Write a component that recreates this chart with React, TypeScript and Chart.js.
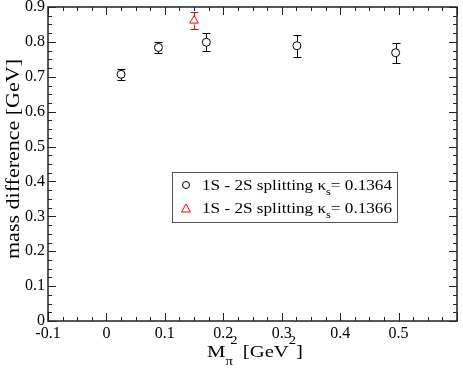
import React, { useEffect, useRef } from "react";
import { Chart, registerables } from "chart.js";

Chart.register(...registerables);

// Series 1: kappa_s = 0.1364 (black circles)
const xs1364 = [0.025, 0.089, 0.171, 0.326, 0.495];
const ys1364 = [0.707, 0.784, 0.799, 0.789, 0.769];
const err1364 = [0.015, 0.016, 0.026, 0.032, 0.029];
// Series 2: kappa_s = 0.1366 (red triangle)
const xs1366 = [0.150];
const ys1366 = [0.861];
const err1366 = [0.024];

const legendLabels = ["1S - 2S splitting \u03BA", "1S - 2S splitting \u03BA"];
const legendValues = ["= 0.1364", "= 0.1366"];

const SERIF = "\"Liberation Serif\", \"Times New Roman\", serif";
Chart.defaults.font.family = SERIF;

const errorBarPlugin = {
  id: "errorBars",
  afterDatasetsDraw(chart: any) {
    const ctx = chart.ctx;
    const ys = chart.scales.y;
    chart.data.datasets.forEach((ds: any, di: number) => {
      const meta = chart.getDatasetMeta(di);
      ctx.save();
      ctx.strokeStyle = ds.borderColor;
      ctx.lineWidth = 1;
      meta.data.forEach((pt: any, i: number) => {
        const d = ds.data[i];
        const yT = Math.round(ys.getPixelForValue(d.y + d.e)) + 0.5;
        const yB = Math.round(ys.getPixelForValue(d.y - d.e)) + 0.5;
        const x = Math.round(pt.x) + 0.5;
        const gap = 4;
        ctx.beginPath();
        ctx.moveTo(x, yT);
        ctx.lineTo(x, pt.y - gap);
        ctx.moveTo(x, pt.y + gap);
        ctx.lineTo(x, yB);
        ctx.moveTo(x - 4, yT);
        ctx.lineTo(x + 4, yT);
        ctx.moveTo(x - 4, yB);
        ctx.lineTo(x + 4, yB);
        ctx.stroke();
      });
      ctx.restore();
    });
  },
};

const framePlugin = {
  id: "frameTicks",
  afterDraw(chart: any) {
    const ctx = chart.ctx;
    const { left, right, top, bottom } = chart.chartArea;
    const xs = chart.scales.x;
    const ys = chart.scales.y;
    ctx.save();
    ctx.strokeStyle = "#222";
    ctx.lineWidth = 1.5;
    ctx.strokeRect(left, top, right - left, bottom - top);
    ctx.lineWidth = 1;
    const isMajor = (v: number) => Math.abs(Math.round(v * 1000)) % 100 === 0;
    xs.ticks.forEach((t: any) => {
      const px = Math.round(xs.getPixelForValue(t.value)) + 0.5;
      const len = isMajor(t.value) ? 8 : 4;
      ctx.beginPath();
      ctx.moveTo(px, bottom);
      ctx.lineTo(px, bottom - len);
      ctx.moveTo(px, top);
      ctx.lineTo(px, top + len);
      ctx.stroke();
    });
    ys.ticks.forEach((t: any) => {
      const py = Math.round(ys.getPixelForValue(t.value)) + 0.5;
      const len = isMajor(t.value) ? 8 : 4;
      ctx.beginPath();
      ctx.moveTo(left, py);
      ctx.lineTo(left + len, py);
      ctx.moveTo(right, py);
      ctx.lineTo(right - len, py);
      ctx.stroke();
    });

    ctx.fillStyle = "#000";
    ctx.textBaseline = "alphabetic";
    ctx.textAlign = "left";

    // X title: M_pi^2 [GeV^2]
    {
      const big = `17px ${SERIF}`;
      const small = `12px ${SERIF}`;
      ctx.font = big;
      const wM = ctx.measureText("M").width;
      const wB = ctx.measureText(" [GeV").width;
      const wC = ctx.measureText("]").width;
      ctx.font = small;
      const wPi = ctx.measureText("\u03C0").width;
      const w2 = ctx.measureText("2").width;
      const wCol = Math.max(wPi, w2 + 3) + 1;
      const natural = wM + wCol + wB + w2 + wC;
      const s = 96 / natural;
      ctx.save();
      ctx.translate(207, 357);
      ctx.scale(s, 1);
      let x = 0;
      ctx.font = big;
      ctx.fillText("M", x, 0);
      x += wM;
      ctx.font = small;
      ctx.fillText("\u03C0", x, 8);
      ctx.fillText("2", x + 4, -13);
      x += wCol;
      ctx.font = big;
      ctx.fillText(" [GeV", x, 0);
      x += wB;
      ctx.font = small;
      ctx.fillText("2", x, -13);
      x += w2;
      ctx.font = big;
      ctx.fillText("]", x, 0);
      ctx.restore();
    }

    // Y title
    {
      ctx.save();
      ctx.font = `18px ${SERIF}`;
      const txt = "mass difference [GeV]";
      const natural = ctx.measureText(txt).width;
      const s = 200 / natural;
      ctx.translate(19, 159);
      ctx.rotate(-Math.PI / 2);
      ctx.scale(s, 1);
      ctx.textAlign = "center";
      ctx.fillText(txt, 0, 0);
      ctx.restore();
    }

    // Legend
    const lx = 172.5, ly = 172.5, lw = 225, lh = 50;
    ctx.strokeStyle = "#555";
    ctx.lineWidth = 1;
    ctx.fillStyle = "#fff";
    ctx.fillRect(lx, ly, lw, lh);
    ctx.strokeRect(lx, ly, lw, lh);
    const rows = [
      { y: 185, color: "#000", shape: "circle" },
      { y: 208, color: "#ff0000", shape: "triangle" },
    ];
    rows.forEach((r, i) => {
      ctx.strokeStyle = r.color;
      ctx.lineWidth = 1;
      ctx.beginPath();
      if (r.shape === "circle") {
        ctx.arc(186, r.y, 3.5, 0, Math.PI * 2);
      } else {
        ctx.moveTo(186, r.y - 4);
        ctx.lineTo(190.5, r.y + 4);
        ctx.lineTo(181.5, r.y + 4);
        ctx.closePath();
      }
      ctx.stroke();

      ctx.fillStyle = "#000";
      ctx.textBaseline = "alphabetic";
      const big = `14px ${SERIF}`;
      const small = `10px ${SERIF}`;
      ctx.font = big;
      const w1 = ctx.measureText(legendLabels[i]).width;
      const w3 = ctx.measureText(legendValues[i]).width;
      ctx.font = small;
      const w2 = ctx.measureText("s").width;
      const s = 190 / (w1 + w2 + w3);
      ctx.save();
      ctx.translate(202, r.y + 5);
      ctx.scale(s, 1);
      let x = 0;
      ctx.font = big;
      ctx.fillText(legendLabels[i], x, 0);
      x += w1;
      ctx.font = small;
      ctx.fillText("s", x, 5);
      x += w2;
      ctx.font = big;
      ctx.fillText(legendValues[i], x, 0);
      ctx.restore();
    });
    ctx.restore();
  },
};

export default function App() {
  const ref = useRef<HTMLCanvasElement>(null);
  useEffect(() => {
    document.body.style.margin = "0";
    const chart = new Chart(ref.current as HTMLCanvasElement, {
      type: "scatter",
      data: {
        datasets: [
          {
            label: "1S - 2S splitting κs= 0.1364",
            data: xs1364.map((x, i) => ({ x, y: ys1364[i], e: err1364[i] })),
            borderColor: "#000",
            backgroundColor: "rgba(0,0,0,0)",
            pointStyle: "circle",
            pointRadius: 4,
            borderWidth: 1,
          },
          {
            label: "1S - 2S splitting κs= 0.1366",
            data: xs1366.map((x, i) => ({ x, y: ys1366[i], e: err1366[i] })),
            borderColor: "#ff0000",
            backgroundColor: "rgba(0,0,0,0)",
            pointStyle: "triangle",
            pointRadius: 5,
            borderWidth: 1,
          },
        ],
      },
      options: {
        responsive: false,
        animation: false,
        layout: { padding: { top: 7, right: 2, left: 0, bottom: 0 } },
        plugins: { legend: { display: false }, tooltip: { enabled: false } },
        scales: {
          x: {
            type: "linear",
            min: -0.1,
            max: 0.6,
            afterFit: (s: any) => { s.height = 48; s.paddingLeft = 0; s.paddingRight = 0; },
            grid: { display: false, drawTicks: false },
            border: { display: false },
            ticks: {
              stepSize: 0.025,
              autoSkip: false,
              maxRotation: 0,
              padding: 3,
              color: "#000",
              font: { family: SERIF, size: 16 },
              callback: (v: any) => {
                const n = Math.round(v * 1000);
                if (n % 100 !== 0 || n === 600) return "";
                return (n / 1000).toString();
              },
            },
          },
          y: {
            type: "linear",
            min: 0,
            max: 0.9,
            afterFit: (s: any) => { s.width = 48; s.paddingTop = 0; s.paddingBottom = 0; },
            grid: { display: false, drawTicks: false },
            border: { display: false },
            ticks: {
              stepSize: 0.025,
              autoSkip: false,
              padding: 3,
              color: "#000",
              font: { family: SERIF, size: 16 },
              callback: (v: any) => {
                const n = Math.round(v * 1000);
                if (n % 100 !== 0) return "";
                return (n / 1000).toString();
              },
            },
          },
        },
      },
      plugins: [errorBarPlugin, framePlugin],
    } as any);
    let alive = true;
    if ((document as any).fonts && (document as any).fonts.load) {
      (document as any).fonts.load("16px \"Liberation Serif\"").then(() => {
        if (alive) chart.update();
      }).catch(() => {});
    }
    return () => { alive = false; chart.destroy(); };
  }, []);
  return <canvas ref={ref} width={463} height={369} style={{ display: "block" }} />;
}
